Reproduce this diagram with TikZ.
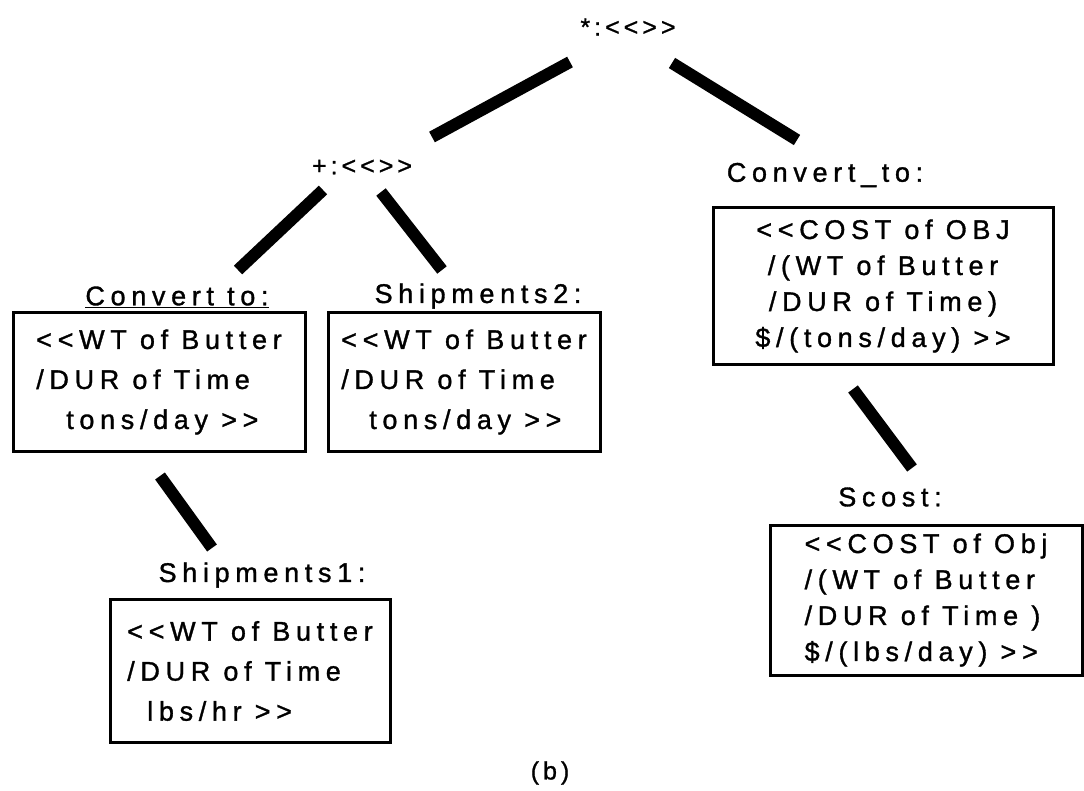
\documentclass[tikz,border=0pt]{standalone}
\usepackage{fontspec}
\newfontfamily\dgmfont{Liberation Sans}[LetterSpace=21, FakeBold=1.2]
\newfontfamily\opfont{Liberation Sans}[LetterSpace=16, FakeBold=1]

\tikzset{
  lbl/.style={font=\dgmfont\fontsize{27}{36}\selectfont, inner sep=0pt},
  oplbl/.style={font=\opfont\fontsize{25}{30}\selectfont, inner sep=0pt},
  frame/.style={lbl, draw, line width=3pt, align=left},
  link/.style={line width=12pt},
}

\begin{document}
\begin{tikzpicture}[x=1pt,y=-1pt]
    \useasboundingbox (0,0) rectangle (1084,791);
    \node[oplbl] (mul) at (628,27) {*:<<>>};
    \node[oplbl] (plus) at (362,167) {+:<<>>};
    \node[lbl] (cto1) at (177,297) {\underline{Convert to:}};
    \node[lbl] (ship2) at (478,296) {Shipments2:};
    \node[lbl] (cto2) at (825,175) {Convert\_to:};
    \node[lbl] (scost) at (890,497) {Scost:};
    \node[lbl] (ship1) at (262,575) {Shipments1:};

    \node[frame, minimum width=292pt, minimum height=139pt] (cbox1) at (159,382)
        {<<WT of Butter\\[4pt]/DUR of Time\\[4pt]\hspace*{30pt}tons/day >>};
    \node[frame, minimum width=272pt, minimum height=139pt] (sbox2) at (464,382)
        {<<WT of Butter\\[4pt]/DUR of Time\\[4pt]\hspace*{28pt}tons/day >>};
    \node[frame, align=center, minimum width=340pt, minimum height=157pt] (cbox2) at (883,286)
        {<<COST of OBJ\\/(WT of Butter\\/DUR of Time)\\\$/(tons/day) >>};
    \node[frame, minimum width=312pt, minimum height=150pt] (scbox) at (926,600)
        {<<COST of Obj\\/(WT of Butter\\/DUR of Time )\\\$/(lbs/day) >>};
    \node[frame, minimum width=280pt, minimum height=143pt] (sbox1) at (250,671)
        {<<WT of Butter\\[4pt]/DUR of Time\\[4pt]\hspace*{20pt}lbs/hr >>};

    \draw[link] ([shift={(-58,35)}]mul.center) -- ([shift={(70,-30)}]plus.center);
    \draw[link] ([shift={(44,36)}]mul.center) -- ([shift={(-28,-35)}]cto2.center);
    \draw[link] ([shift={(-39,23)}]plus.center) -- ([shift={(61,-27)}]cto1.center);
    \draw[link] ([shift={(19,25)}]plus.center) -- ([shift={(-36,-26)}]ship2.center);
    \draw[link] ([shift={(-30,23)}]cbox2.south) -- ([shift={(22,-29)}]scost.center);
    \draw[link] ([shift={(1,23)}]cbox1.south) -- ([shift={(-50,-27)}]ship1.center);

    \node[oplbl] (cap) at (550,773) {(b)};
\end{tikzpicture}
\end{document}
